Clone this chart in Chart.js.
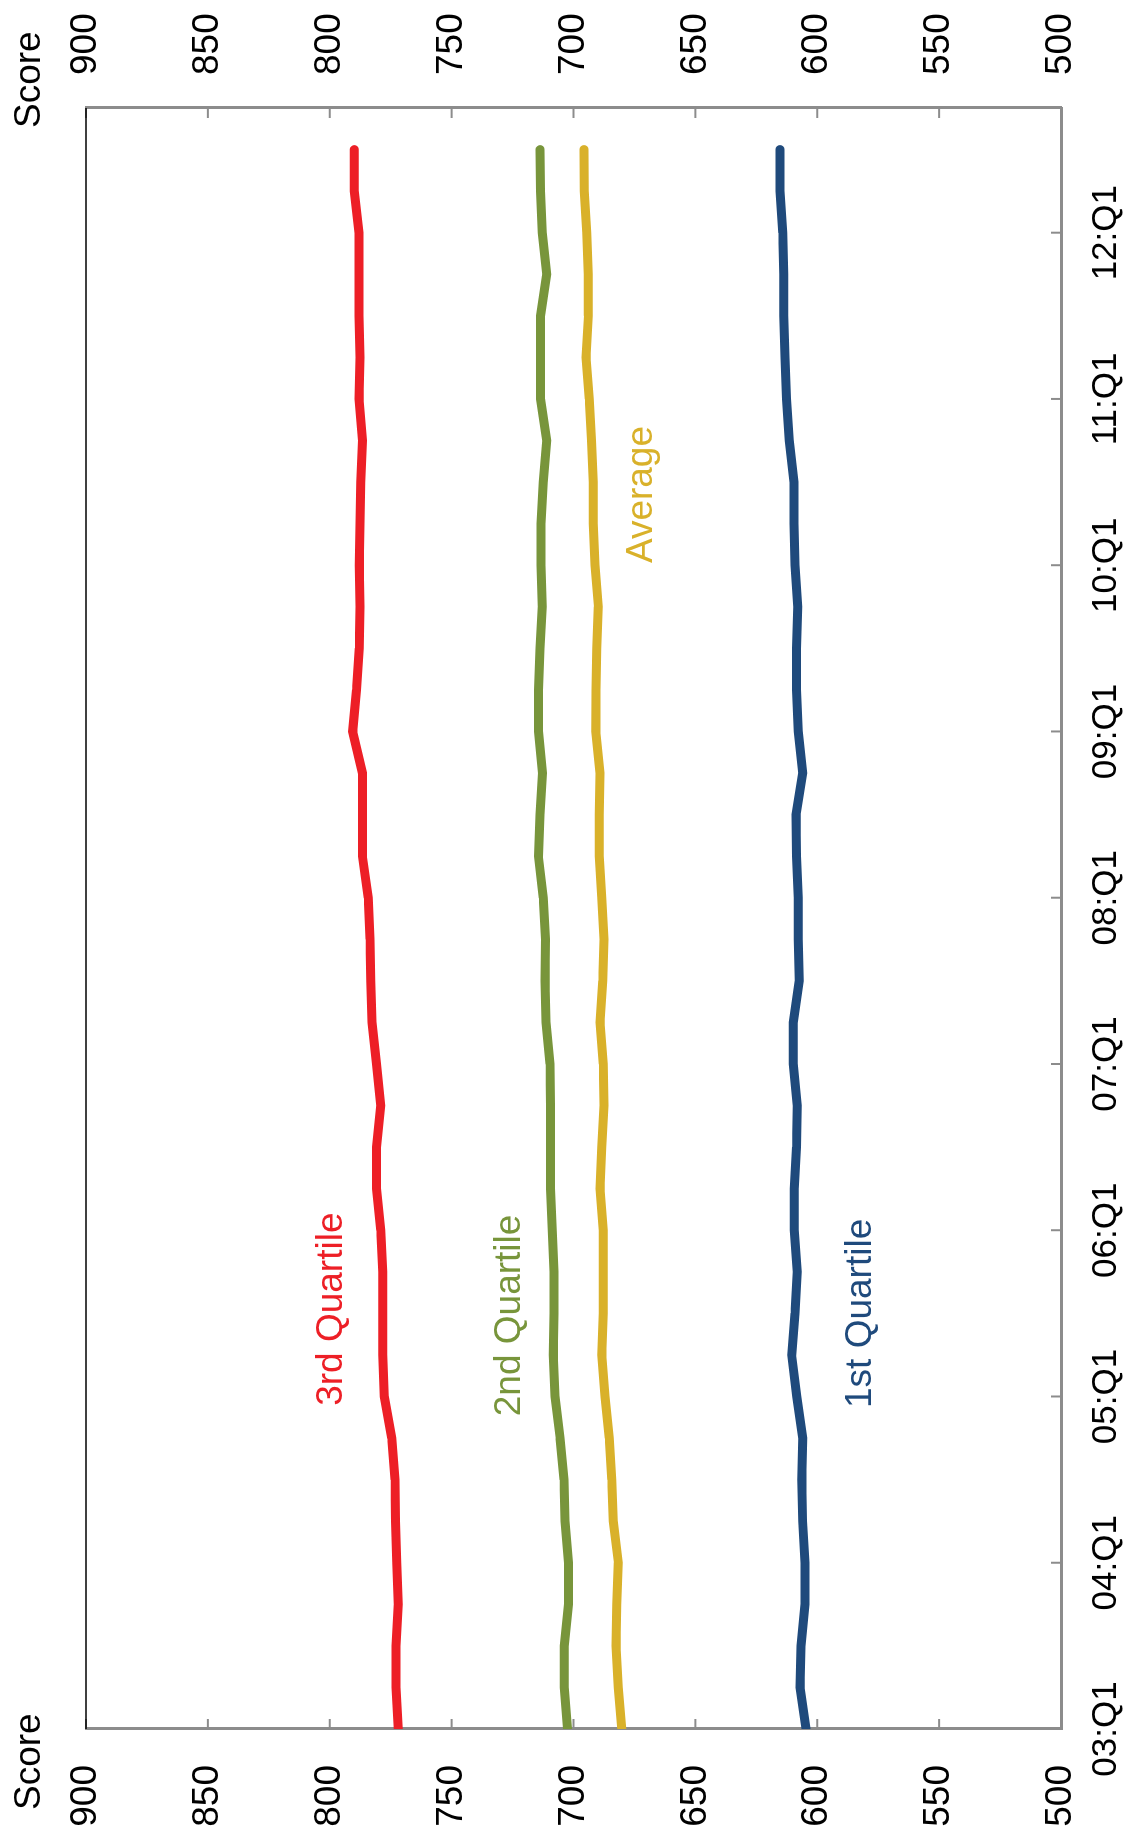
<!DOCTYPE html>
<html>
<head>
<meta charset="utf-8">
<title>Score by quarter</title>
<script src="https://cdn.jsdelivr.net/npm/chart.js@4/dist/chart.umd.min.js"></script>
<style>
  html, body { margin: 0; padding: 0; background: #fff; overflow: hidden; }
  /* chart is drawn landscape, then turned a quarter turn counter-clockwise */
  #wrap {
    position: absolute; left: 0; top: 0;
    width: 1839px; height: 1128px;
    transform-origin: 0 0;
    transform: translate(0, 1839px) rotate(-90deg);
  }
</style>
</head>
<body>
<div id="wrap"><canvas id="scoreChart" width="1839" height="1128"></canvas></div>
<script>
const quarters = [
  "03:Q1", "03:Q2", "03:Q3", "03:Q4", "04:Q1", "04:Q2", "04:Q3", "04:Q4",
  "05:Q1", "05:Q2", "05:Q3", "05:Q4", "06:Q1", "06:Q2", "06:Q3", "06:Q4",
  "07:Q1", "07:Q2", "07:Q3", "07:Q4", "08:Q1", "08:Q2", "08:Q3", "08:Q4",
  "09:Q1", "09:Q2", "09:Q3", "09:Q4", "10:Q1", "10:Q2", "10:Q3", "10:Q4",
  "11:Q1", "11:Q2", "11:Q3", "11:Q4", "12:Q1", "12:Q2", "12:Q3", "12:Q4",
];
const shownLabels = [
  "03:Q1", "04:Q1", "05:Q1", "06:Q1", "07:Q1",
  "08:Q1", "09:Q1", "10:Q1", "11:Q1", "12:Q1",
];
const scoreTicks = [500, 550, 600, 650, 700, 750, 800, 850, 900];

const thirdQuartile = [
  771.9, 772.8, 772.8, 771.9, 772.5, 773.0, 773.2, 774.6, 777.6, 778.3,
  778.3, 778.3, 779.1, 780.8, 780.8, 779.1, 780.8, 782.7, 783.2, 783.5,
  784.2, 786.6, 786.6, 786.6, 790.6, 789.0, 787.9, 787.6, 787.9, 787.6,
  787.3, 786.6, 788.0, 787.6, 788.0, 788.0, 788.0, 789.9, 789.9,
];
const secondQuartile = [
  702.5, 703.8, 703.8, 702.1, 702.1, 703.5, 703.9, 705.5, 707.6, 708.3,
  708.0, 708.0, 708.7, 709.4, 709.4, 709.4, 709.6, 711.3, 711.7, 711.5,
  712.4, 714.4, 713.7, 712.7, 714.4, 714.4, 713.7, 712.8, 713.3, 713.3,
  712.4, 711.0, 713.5, 713.5, 713.5, 711.0, 712.8, 713.5, 713.7,
];
const average = [
  680.2, 681.6, 682.6, 682.3, 681.6, 683.7, 684.3, 685.3, 687.1, 688.4,
  687.8, 687.8, 687.8, 689.1, 688.4, 687.5, 687.8, 689.1, 688.0, 687.5,
  688.4, 689.4, 689.4, 689.1, 690.9, 690.8, 690.5, 689.8, 691.2, 691.9,
  691.9, 692.6, 693.5, 694.9, 693.9, 693.9, 694.6, 695.6, 695.7,
];
const firstQuartile = [
  604.6, 607.1, 606.7, 605.0, 605.0, 606.0, 606.4, 606.0, 608.4, 610.5,
  609.1, 608.2, 609.4, 609.4, 608.5, 608.2, 609.8, 609.8, 607.4, 607.8,
  607.8, 608.5, 608.7, 606.0, 607.8, 608.5, 608.5, 608.0, 609.1, 609.5,
  609.5, 611.5, 612.6, 613.2, 613.7, 613.7, 614.2, 615.3, 615.3,
];

const RED = "#ed1f26";
const GREEN = "#78953b";
const GOLD = "#d9b12a";
const NAVY = "#1f4a7c";
const GRAY = "#8c8c8c";
const FONT = "'Liberation Sans', Arial, sans-serif";
const NARROW = "'Liberation Sans Narrow', 'Arial Narrow', 'Liberation Sans', Arial, sans-serif";

/* ── series name tags, anchored in data space ── */
const seriesTags = [
  { text: "3rd Quartile", color: RED, at: 10.1, score: 799 },
  { text: "2nd Quartile", color: GREEN, at: 9.95, score: 726 },
  { text: "Average", color: GOLD, at: 29.7, score: 672 },
  { text: "1st Quartile", color: NAVY, at: 10.0, score: 582 },
];

function series(label, data, color) {
  return {
    label,
    data,
    borderColor: color,
    backgroundColor: color,
    borderWidth: 9,
    borderCapStyle: "round",
    pointRadius: 0,
    tension: 0,
    fill: false,
    clip: 0,
  };
}

/* ── ticks drawn on the inside of the frame ── */
const insideTicks = {
  id: "insideTicks",
  beforeDatasetsDraw(chart) {
    const { ctx, chartArea: a, scales } = chart;
    ctx.save();
    ctx.strokeStyle = GRAY;
    ctx.lineWidth = 2;
    const seg = (x1, y1, x2, y2) => {
      ctx.beginPath();
      ctx.moveTo(x1, y1);
      ctx.lineTo(x2, y2);
      ctx.stroke();
    };
    scoreTicks.forEach((v) => {
      const y = scales.y.getPixelForValue(v);
      seg(a.left, y, a.left + 10, y);
      seg(a.right - 10, y, a.right, y);
    });
    shownLabels.forEach((l) => {
      const x = scales.x.getPixelForValue(quarters.indexOf(l));
      seg(x, a.bottom - 10, x, a.bottom);
    });
    // thin dark top edge of the frame
    ctx.strokeStyle = "#000";
    ctx.lineWidth = 1.5;
    seg(a.left, a.top, a.right, a.top);
    ctx.restore();
  },
};

/* ── axis titles and line names ── */
const textLayer = {
  id: "textLayer",
  afterDatasetsDraw(chart) {
    const { ctx, chartArea: a, scales } = chart;
    ctx.save();
    ctx.font = `37px ${FONT}`;
    ctx.fillStyle = "#000";
    ctx.textAlign = "left";
    ctx.textBaseline = "alphabetic";
    ctx.fillText("Score", a.left - 81, 40);
    ctx.fillText("Score", a.right - 20, 40);

    ctx.textAlign = "center";
    ctx.textBaseline = "middle";
    seriesTags.forEach((t) => {
      ctx.fillStyle = t.color;
      ctx.fillText(
        t.text,
        scales.x.getPixelForValue(t.at),
        scales.y.getPixelForValue(t.score)
      );
    });
    ctx.restore();
  },
};

const scoreAxis = (position, width, padding) => ({
  position,
  min: 500,
  max: 900,
  grid: { display: false, drawTicks: false },
  border: { display: true, color: GRAY, width: 3 },
  ticks: { padding, color: "#000", font: { family: FONT, size: 37 } },
  afterBuildTicks(s) {
    s.ticks = scoreTicks.map((value) => ({ value }));
  },
  afterFit(s) {
    s.width = width;
  },
});

new Chart(document.getElementById("scoreChart"), {
  type: "line",
  data: {
    labels: quarters,
    datasets: [
      series("3rd Quartile", thirdQuartile, RED),
      series("2nd Quartile", secondQuartile, GREEN),
      series("Average", average, GOLD),
      series("1st Quartile", firstQuartile, NAVY),
    ],
  },
  options: {
    responsive: false,
    animation: false,
    devicePixelRatio: 1,
    layout: { padding: { top: 86, left: 0, right: 0, bottom: 0 } },
    plugins: { legend: { display: false }, tooltip: { enabled: false } },
    scales: {
      x: {
        type: "category",
        offset: false,
        grid: { display: false, drawTicks: false },
        border: { display: true, color: GRAY, width: 3 },
        ticks: {
          autoSkip: false,
          maxRotation: 0,
          minRotation: 0,
          padding: 24,
          color: "#000",
          font: { family: NARROW, size: 35 },
          callback(v) {
            const l = quarters[v];
            return shownLabels.includes(l) ? l : "";
          },
        },
        afterFit(s) {
          s.height = 67;
        },
      },
      y: scoreAxis("left", 110, 36),
      y2: scoreAxis("right", 108, 33),
    },
  },
  plugins: [insideTicks, textLayer],
});
</script>
</body>
</html>
